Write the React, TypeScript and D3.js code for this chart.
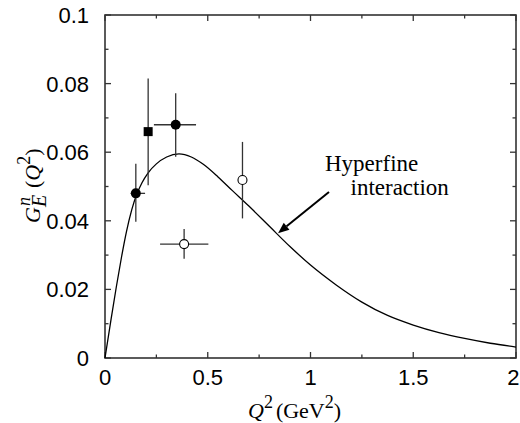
import React from "react";
import * as d3 from "d3";

// Theory curve (hyperfine interaction)
const curveQ2 = [0, 0.03, 0.055, 0.08, 0.105, 0.13, 0.155, 0.18, 0.21, 0.25, 0.3, 0.36, 0.42, 0.48, 0.55, 0.62, 0.7, 0.8, 0.9, 1.0, 1.125, 1.25, 1.375, 1.5, 1.625, 1.75, 1.875, 2.0];
const curveG = [0, 0.0115, 0.0207, 0.0293, 0.037, 0.0432, 0.0478, 0.0511, 0.054, 0.0566, 0.0586, 0.0595, 0.0586, 0.0564, 0.0528, 0.0488, 0.0443, 0.0384, 0.0325, 0.0271, 0.0213, 0.0163, 0.0124, 0.0096, 0.0074, 0.0057, 0.0043, 0.0032];

// Data points: [Q2, G, Glow, Ghigh, Q2low, Q2high]
const filledCircles = [
  [0.15, 0.048, 0.0397, 0.0566, 0.125, 0.195],
  [0.344, 0.068, 0.0587, 0.0772, 0.238, 0.443],
];
const filledSquares = [[0.21, 0.066, 0.0504, 0.0815, null, null]];
const openCircles = [
  [0.669, 0.0519, 0.0407, 0.063, null, null],
  [0.385, 0.0332, 0.0289, 0.0376, 0.268, 0.503],
];

const xMajor = [0, 0.5, 1, 1.5, 2];
const xMinor = [0.25, 0.75, 1.25, 1.75];
const yMajor = [0, 0.02, 0.04, 0.06, 0.08, 0.1];
const yMinor = [0.01, 0.03, 0.05, 0.07, 0.09];
const xTickLabels = ["0", "0.5", "1", "1.5", "2"];
const yTickLabels = ["0", "0.02", "0.04", "0.06", "0.08", "0.1"];

const arrowFrom = [1.09, 0.0484];
const arrowTo = [0.842, 0.0364];

const W = 520, H = 423;
const L = 105, R = 516, T = 15, B = 358;
const AX = "#333";

export default function App() {
  const x = d3.scaleLinear().domain([0, 2]).range([L, R]);
  const y = d3.scaleLinear().domain([0, 0.1]).range([B, T]);
  const line = d3
    .line<number>()
    .x((_, i) => x(curveQ2[i]))
    .y((d) => y(d))
    .curve(d3.curveMonotoneX);
  const curvePath = line(curveG) || "";

  const sans = "'Liberation Sans', Arial, sans-serif";
  const serif = "'Liberation Serif', 'Times New Roman', serif";

  const errBars = (pts: any[], key: string) =>
    pts.map((p, i) => (
      <g key={key + i} stroke={AX} strokeWidth={1.3}>
        <line x1={x(p[0])} x2={x(p[0])} y1={y(p[2])} y2={y(p[3])} />
        {p[4] != null && (
          <line x1={x(p[4])} x2={x(p[5])} y1={y(p[1])} y2={y(p[1])} />
        )}
      </g>
    ));

  // arrow geometry
  const ax1 = x(arrowFrom[0]), ay1 = y(arrowFrom[1]);
  const ax2 = x(arrowTo[0]), ay2 = y(arrowTo[1]);
  const ang = Math.atan2(ay2 - ay1, ax2 - ax1);
  const hl = 11, hw = 4.5;
  const bx = ax2 - hl * Math.cos(ang), by = ay2 - hl * Math.sin(ang);
  const head = `M${ax2},${ay2} L${bx + hw * Math.sin(ang)},${by - hw * Math.cos(ang)} L${bx - hw * Math.sin(ang)},${by + hw * Math.cos(ang)} Z`;

  return (
    <svg
      width={W}
      height={H}
      style={{ position: "absolute", left: 0, top: 0, background: "#fff" }}
    >
      <rect x={0} y={0} width={W} height={H} fill="#fff" />
      {/* ticks */}
      <g stroke={AX} strokeWidth={1.3}>
        {xMajor.map((v) => (
          <g key={"xM" + v}>
            <line x1={x(v)} x2={x(v)} y1={B} y2={B - 6} />
            <line x1={x(v)} x2={x(v)} y1={T} y2={T + 6} />
          </g>
        ))}
        {xMinor.map((v) => (
          <g key={"xm" + v}>
            <line x1={x(v)} x2={x(v)} y1={B} y2={B - 3.5} />
            <line x1={x(v)} x2={x(v)} y1={T} y2={T + 3.5} />
          </g>
        ))}
        {yMajor.map((v) => (
          <g key={"yM" + v}>
            <line x1={L} x2={L + 6} y1={y(v)} y2={y(v)} />
            <line x1={R} x2={R - 6} y1={y(v)} y2={y(v)} />
          </g>
        ))}
        {yMinor.map((v) => (
          <g key={"ym" + v}>
            <line x1={L} x2={L + 3.5} y1={y(v)} y2={y(v)} />
            <line x1={R} x2={R - 3.5} y1={y(v)} y2={y(v)} />
          </g>
        ))}
      </g>
      <rect x={L} y={T} width={R - L} height={B - T} fill="none" stroke={AX} strokeWidth={1.6} />

      {/* tick labels */}
      <g fontFamily={sans} fontSize={22} fill="#000">
        {xMajor.map((v, i) => {
          const last = i === xMajor.length - 1;
          return (
            <text
              key={"xl" + v}
              x={last ? W - 0.5 : x(v)}
              y={385}
              textAnchor={last ? "end" : "middle"}
            >
              {xTickLabels[i]}
            </text>
          );
        })}
        {yMajor.map((v, i) => (
          <text key={"yl" + v} x={89} y={y(v) + 8} textAnchor="end">
            {yTickLabels[i]}
          </text>
        ))}
      </g>

      {/* curve */}
      <path d={curvePath} fill="none" stroke="#000" strokeWidth={1.3} />

      {/* error bars */}
      {errBars(filledCircles, "fc")}
      {errBars(filledSquares, "fs")}
      {errBars(openCircles, "oc")}

      {/* markers */}
      {filledCircles.map((p, i) => (
        <circle key={"c" + i} cx={x(p[0])} cy={y(p[1] as number)} r={5} fill="#000" />
      ))}
      {filledSquares.map((p, i) => (
        <rect key={"s" + i} x={x(p[0]) - 4.5} y={y(p[1] as number) - 4.5} width={9} height={9} fill="#000" />
      ))}
      {openCircles.map((p, i) => (
        <circle key={"o" + i} cx={x(p[0])} cy={y(p[1] as number)} r={4.5} fill="#fff" stroke="#000" strokeWidth={1.1} />
      ))}

      {/* annotation */}
      <g fontFamily={serif} fontSize={23} fill="#000">
        <text x={325} y={171}>Hyperfine</text>
        <text x={350.5} y={195}>interaction</text>
      </g>
      <line x1={ax1} y1={ay1} x2={bx} y2={by} stroke="#000" strokeWidth={2} />
      <path d={head} fill="#000" />

      {/* x axis label */}
      <text x={248} y={418} fontFamily={serif} fontSize={22} fill="#000">
        <tspan fontStyle="italic">Q</tspan>
        <tspan fontSize={18} dy={-10}>2</tspan>
        <tspan dy={10} dx={3}>(GeV</tspan>
        <tspan fontSize={18} dy={-10}>2</tspan>
        <tspan dy={10}>)</tspan>
      </text>

      {/* y axis label */}
      <g transform="translate(40,178) rotate(-90)" fontFamily={serif} fill="#000">
        <text x={-45} y={0} fontSize={22} fontStyle="italic">G</text>
        <text x={-28} y={-10} fontSize={18} fontStyle="italic">n</text>
        <text x={-29} y={6} fontSize={20} fontStyle="italic">E</text>
        <text x={-10} y={0} fontSize={22}>
          (<tspan fontStyle="italic">Q</tspan>
          <tspan fontSize={18} dy={-10}>2</tspan>
          <tspan dy={10}>)</tspan>
        </text>
      </g>
    </svg>
  );
}
